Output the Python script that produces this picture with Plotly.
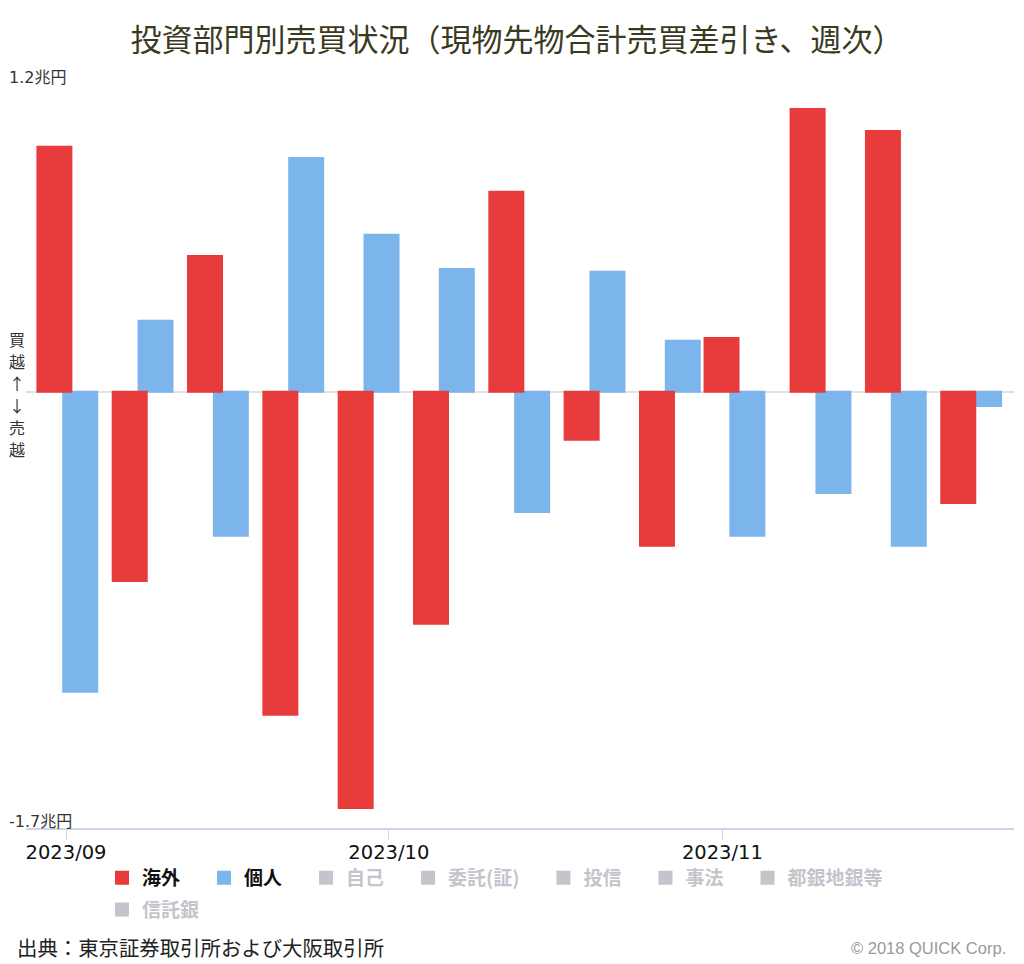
import plotly.graph_objects as go

# Weekly dates (last trading day of each week)
weeks = ["2023-09-01", "2023-09-08", "2023-09-15", "2023-09-22", "2023-09-29",
         "2023-10-06", "2023-10-13", "2023-10-20", "2023-10-27", "2023-11-02",
         "2023-11-10", "2023-11-17", "2023-11-24"]

# Net buy (+) / sell (-), trillion yen
foreign = [0.955, -0.737, 0.530, -1.259, -1.622, -0.904, 0.780, -0.187, -0.600,
           0.210, 1.103, 1.017, -0.433]
individual = [-1.169, 0.277, -0.561, 0.912, 0.612, 0.479, -0.468, 0.468, 0.199,
              -0.561, -0.394, -0.600, -0.055]

# Series that are switched off in the legend (values not shown in the chart)
hidden_names = ["自己", "委託(証)", "投信", "事法", "都銀地銀等", "信託銀"]
hidden_values = [None] * len(weeks)

month_ticks = ["2023-09-01", "2023-10-01", "2023-11-01"]
month_labels = ["2023/09", "2023/10", "2023/11"]
y_ticks = [1.2, -1.7]
y_labels = ["1.2兆円", "-1.7兆円"]
side_label = ["買", "越", "↑", "↓", "売", "越"]

title = "投資部門別売買状況（現物先物合計売買差引き、週次）"
source = "出典：東京証券取引所および大阪取引所"
credit = "© 2018 QUICK Corp."

DAY = 86400000
RED = "#e83b3b"
BLUE = "#7cb5ec"
GREY = "#8a8a9a"
SP = "\u3000"

# page body has an 8px margin; figure fills the rest of the 1024x964 window
OFF = 8
W, H = 1024 - OFF, 964 - OFF
# plot area in page pixels: x 26..1014, y 84..828
L, R, T, B = 26 - OFF, W - (1014 - OFF), 84 - OFF, H - (828 - OFF)
pw, ph = W - L - R, H - T - B


def fx(p):
    return (p - OFF - L) / pw


def fy(p):
    return (H - B - (p - OFF)) / ph


fig = go.Figure()

bar_w = 3.16 * DAY
fig.add_trace(go.Bar(
    x=weeks, y=individual, name="個人" + SP, marker_color=BLUE,
    marker_line=dict(color=BLUE, width=2),
    width=bar_w, offset=-0.26 * DAY, legendrank=2, legendgroup="g2",
))
fig.add_trace(go.Bar(
    x=weeks, y=foreign, name="海外" + SP, marker_color=RED,
    marker_line=dict(color=RED, width=2),
    width=bar_w, offset=-2.66 * DAY, legendrank=1, legendgroup="g1",
))
for i, n in enumerate(hidden_names):
    # the last entry is padded so that it wraps onto a second legend row
    pad = SP if i < len(hidden_names) - 1 else SP * 5
    fig.add_trace(go.Bar(
        x=weeks, y=hidden_values,
        name=f"<span style='color:{GREY}'>{n}</span>" + pad,
        marker_color=GREY, marker_line=dict(color=GREY, width=2),
        visible="legendonly", legendrank=3 + i, legendgroup=f"h{i}",
    ))

fig.update_layout(
    template="none",
    width=W, height=H, autosize=False,
    margin=dict(l=L, r=R, t=T, b=B, pad=0, autoexpand=False),
    paper_bgcolor="white", plot_bgcolor="white",
    barmode="overlay",
    font=dict(family="Noto Sans CJK JP, sans-serif", color="#333333"),
    title=dict(text=title, x=(517 - OFF) / W, xref="container", xanchor="center",
               y=1 - (40 - OFF) / H, yanchor="middle",
               font=dict(size=31, color="#3a3a22", family="Noto Sans CJK JP")),
    xaxis=dict(
        type="date", automargin=False,
        range=["2023-08-28 06:47", "2023-11-28 02:24"],
        tickvals=month_ticks, ticktext=month_labels,
        ticks="outside", ticklen=10, tickcolor="#ccd6eb", tickwidth=1,
        ticklabelstandoff=-4,
        showline=True, linecolor="#ccd6eb", linewidth=1.5,
        showgrid=False, zeroline=False,
        tickfont=dict(family="DejaVu Sans", size=19.5, color="#111111"),
        fixedrange=True,
    ),
    yaxis=dict(
        automargin=False,
        range=[-1.7, 1.2],
        tickvals=[1.2], showticklabels=False, ticks="",
        showgrid=True, gridcolor="#e6e6e6", gridwidth=1.5,
        zeroline=True, zerolinecolor="#e2e2e2", zerolinewidth=2,
        showline=False, fixedrange=True,
    ),
    legend=dict(
        orientation="h", xref="paper", yref="paper",
        x=fx(102), y=fy(859), xanchor="left", yanchor="top",
        tracegroupgap=4,
        font=dict(size=19, color="#111111", family="Noto Sans CJK JP", weight="bold"),
        bgcolor="rgba(0,0,0,0)",
    ),
    showlegend=True,
)

annotations = []
for v, lab in zip(y_ticks, y_labels):
    annotations.append(dict(
        x=fx(7), xref="paper", y=v, yref="y", xanchor="left", yanchor="bottom",
        text=lab, showarrow=False, yshift=-5,
        font=dict(family="DejaVu Sans, Noto Sans CJK JP", size=16, color="#333333"),
    ))
side_y = [339, 361, 383, 405, 427, 449]
for ch, yy in zip(side_label, side_y):
    annotations.append(dict(
        x=fx(17), xref="paper", y=fy(yy), yref="paper", xanchor="center", yanchor="middle",
        text=ch, showarrow=False, borderpad=0,
        font=dict(family="Noto Sans CJK JP", size=16, color="#333333"),
    ))
annotations.append(dict(
    x=fx(15), xref="paper", y=fy(947), yref="paper", xanchor="left", yanchor="middle",
    text=source, showarrow=False,
    font=dict(family="Noto Sans CJK JP", size=20.4, color="#222222"),
))
annotations.append(dict(
    x=fx(1008), xref="paper", y=fy(948), yref="paper", xanchor="right", yanchor="middle",
    text=credit, showarrow=False,
    font=dict(family="Liberation Sans Narrow, Liberation Sans", size=16.5, color="#999999"),
))
fig.update_layout(annotations=annotations)

fig.write_html("out.html")
